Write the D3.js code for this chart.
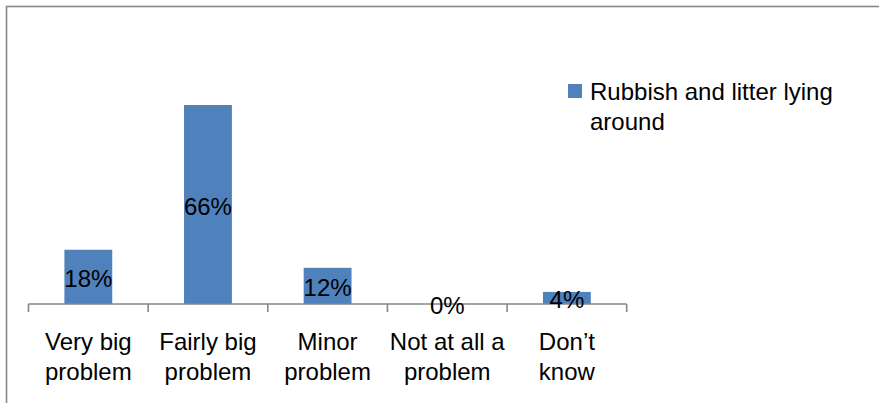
<!DOCTYPE html>
<html>
<head>
<meta charset="utf-8">
<script src="https://cdn.jsdelivr.net/npm/d3@7"></script>
<style>
  html, body { margin: 0; padding: 0; background: #fff; }
  svg { display: block; }
  text { font-family: "Liberation Sans", Arial, sans-serif; fill: #000; }
</style>
</head>
<body>
<svg id="chart" width="879" height="403"></svg>
<script>
const categories = [["Very big", "problem"], ["Fairly big", "problem"], ["Minor", "problem"], ["Not at all a", "problem"], ["Don\u2019t", "know"]];
const values = [18, 66, 12, 0, 4];
const valueLabels = ["18%", "66%", "12%", "0%", "4%"];
const seriesName = ["Rubbish and litter lying", "around"];

const svg = d3.select("#chart");
const W = 879, H = 403;

svg.append("rect").attr("x", 0).attr("y", 0).attr("width", W).attr("height", H).attr("fill", "#fff");
svg.append("rect")
  .attr("x", 6.5).attr("y", 6.5).attr("width", 1000).attr("height", 1000)
  .attr("fill", "none").attr("stroke", "#878787").attr("stroke-width", 1.6);

const x = d3.scaleBand().domain(d3.range(categories.length)).range([28.5, 626.7]).paddingInner(0.6).paddingOuter(0.3);
const y = d3.scaleLinear().domain([0, 70]).range([304, 304 - 70 * 3.015]);

const color = "#4F81BD";

svg.selectAll("rect.bar").data(values).enter().append("rect")
  .attr("class", "bar")
  .attr("x", (d, i) => x(i))
  .attr("width", x.bandwidth())
  .attr("y", d => y(d))
  .attr("height", d => y(0) - y(d))
  .attr("fill", color);

// axis
const step = (626.7 - 28.5) / categories.length;
const axisG = svg.append("g");
axisG.append("line").attr("x1", 28.5).attr("x2", 626.7).attr("y1", 304).attr("y2", 304)
  .attr("stroke", "#868686").attr("stroke-width", 1.6);
d3.range(categories.length + 1).forEach(i => {
  const tx = 28.5 + i * step;
  axisG.append("line").attr("x1", tx).attr("x2", tx).attr("y1", 304).attr("y2", 312)
    .attr("stroke", "#868686").attr("stroke-width", 1.6);
});

// category labels
categories.forEach((lines, i) => {
  const cx = x(i) + x.bandwidth() / 2;
  lines.forEach((ln, j) => {
    svg.append("text").attr("x", cx).attr("y", 350 + j * 30)
      .attr("text-anchor", "middle").attr("font-size", 24).text(ln);
  });
});

// data labels
svg.selectAll("text.val").data(values).enter().append("text")
  .attr("class", "val")
  .attr("x", (d, i) => x(i) + x.bandwidth() / 2)
  .attr("y", d => (y(d) + y(0)) / 2 + 10)
  .attr("text-anchor", "middle").attr("font-size", 24)
  .text((d, i) => valueLabels[i]);

// legend
svg.append("rect").attr("x", 568).attr("y", 84).attr("width", 14).attr("height", 14).attr("fill", color);
seriesName.forEach((ln, j) => {
  svg.append("text").attr("x", 590).attr("y", 100 + j * 30).attr("font-size", 24).text(ln);
});
</script>
</body>
</html>
